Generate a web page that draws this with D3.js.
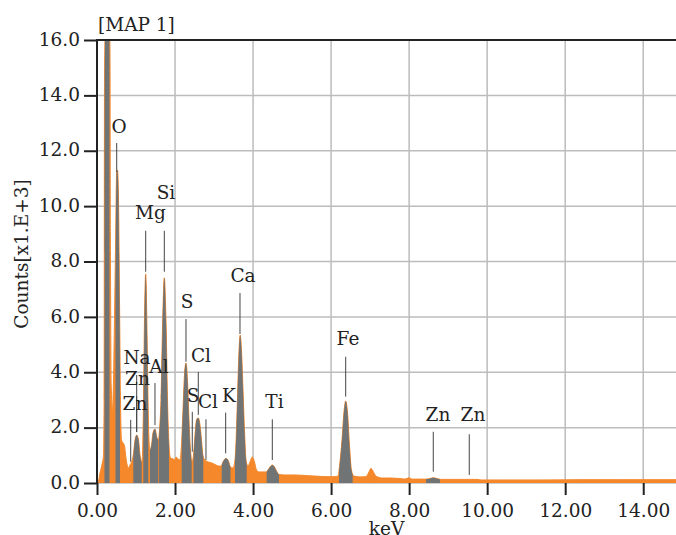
<!DOCTYPE html>
<html>
<head>
<meta charset="utf-8">
<script src="https://cdn.jsdelivr.net/npm/d3@7"></script>
<style>
  body { margin: 0; background: #fff; }
  text { font-family: "DejaVu Serif", serif; fill: #222; }
</style>
</head>
<body>
<svg id="canvas" width="676" height="535"></svg>
<script>
// spectrum (keV, counts x1000)
let energy = [0.000, 0.038, 0.077, 0.136, 0.167, 0.182, 0.192, 0.218, 0.269, 0.320, 0.333, 0.346, 0.364, 0.397, 0.423, 0.448,
  0.474, 0.505, 0.525, 0.551, 0.577, 0.602, 0.628, 0.674, 0.705, 0.743, 0.802, 0.846, 0.889, 0.930, 0.974,
  1.017, 1.064, 1.102, 1.146, 1.166, 1.192, 1.217, 1.248, 1.281, 1.307, 1.333, 1.358, 1.397, 1.435, 1.486,
  1.538, 1.576, 1.602, 1.640, 1.679, 1.725, 1.768, 1.807, 1.845, 1.884, 1.948, 1.999, 2.025, 2.076, 2.127,
  2.165, 2.204, 2.242, 2.281, 2.319, 2.358, 2.396, 2.435, 2.473, 2.512, 2.550, 2.596, 2.640, 2.678, 2.717,
  2.768, 2.845, 2.947, 3.050, 3.127, 3.178, 3.229, 3.306, 3.370, 3.421, 3.485, 3.537, 3.575, 3.614, 3.647,
  3.670, 3.703, 3.742, 3.780, 3.819, 3.870, 3.921, 3.980, 4.036, 4.088, 4.152, 4.254, 4.331, 4.382, 4.434,
  4.493, 4.549, 4.613, 4.664, 4.818, 5.074, 5.330, 5.587, 5.843, 6.099, 6.176, 6.228, 6.279, 6.330, 6.374,
  6.420, 6.471, 6.522, 6.586, 6.740, 6.894, 6.971, 7.022, 7.073, 7.150, 7.304, 7.509, 7.765, 7.893, 7.996,
  8.073, 8.278, 8.432, 8.534, 8.618, 8.713, 8.816, 9.046, 9.302, 9.558, 9.764, 9.841, 10.328, 11.353, 12.378,
  13.403, 14.840]
let counts = [0.00, 0.07, 0.36, 0.72, 1.01, 3.0, 14.5, 16.7, 17.3, 16.7, 15.5, 8.0, 3.50, 2.60, 3.72, 5.89,
  8.41, 11.23, 11.30, 10.22, 6.61, 3.00, 1.55, 1.44, 1.34, 0.90, 0.54, 0.65, 0.77, 1.01, 1.55,
  1.73, 1.55, 1.01, 0.76, 1.01, 3.00, 5.89, 7.55, 5.53, 3.00, 1.55, 1.19, 1.37, 1.81, 1.95,
  1.63, 1.55, 1.91, 3.00, 5.53, 7.41, 5.89, 3.00, 1.37, 0.90, 0.87, 0.83, 0.94, 0.87, 0.83,
  1.37, 2.64, 3.90, 4.33, 3.72, 2.28, 1.19, 0.76, 1.01, 1.73, 2.28, 2.35, 2.09, 1.55, 0.98,
  0.83, 0.76, 0.72, 0.65, 0.61, 0.61, 0.76, 0.89, 0.79, 0.58, 0.54, 0.83, 1.91, 3.72, 4.98,
  5.34, 4.80, 3.36, 1.91, 0.83, 0.61, 0.76, 0.94, 0.76, 0.47, 0.40, 0.40, 0.40, 0.47, 0.58,
  0.65, 0.58, 0.40, 0.31, 0.29, 0.29, 0.27, 0.25, 0.23, 0.23, 0.25, 0.76, 1.55, 2.56, 2.96,
  2.56, 1.37, 0.47, 0.25, 0.22, 0.23, 0.40, 0.53, 0.43, 0.25, 0.18, 0.18, 0.16, 0.14, 0.19,
  0.14, 0.14, 0.14, 0.16, 0.19, 0.16, 0.13, 0.13, 0.13, 0.13, 0.13, 0.11, 0.11, 0.11, 0.12,
  0.12, 0.12]

// identified peak windows (gray), keV
let peakStart = [0.192, 0.474, 0.930, 1.187, 1.358, 1.589, 2.171, 2.473, 3.196, 3.537, 4.349, 6.202, 8.432]
let peakEnd = [0.320, 0.590, 1.146, 1.315, 1.571, 1.845, 2.427, 2.724, 3.421, 3.837, 4.664, 6.553, 8.790]

// element labels
let labelText = ["O", "Mg", "Si", "S", "Ca", "Cl", "Na", "Zn", "Zn", "Al", "S", "Cl", "K", "Ti", "Fe", "Zn", "Zn"]
let labelLineKeV = [0.505, 1.248, 1.725, 2.281, 3.665, 2.596, 1.017, 1.017, 0.864, 1.486, 2.442, 2.793, 3.298, 4.493, 6.374, 8.619, 9.541]
let labelTextKeV = [0.564, 1.371, 1.768, 2.307, 3.742, 2.665, 1.025, 1.038, 0.974, 1.589, 2.460, 2.845, 3.383, 4.549, 6.433, 8.739, 9.636]
let labelBase = [12.64, 9.53, 10.26, 6.31, 7.25, 4.38, 4.29, 3.54, 2.64, 3.98, 2.94, 2.70, 2.94, 2.70, 4.98, 2.25, 2.25]
let lineTop = [12.28, 9.11, 9.11, 5.92, 6.86, 4.01, 3.90, 3.14, 2.28, 3.61, 2.57, 2.30, 2.54, 2.30, 4.56, 1.85, 1.76]
let lineBottom = [11.23, 7.63, 7.63, 4.38, 5.38, 2.46, 1.84, 1.84, 0.77, 2.09, 1.13, 0.83, 1.07, 0.83, 3.12, 0.41, 0.29]

let xTicks = [0, 2, 4, 6, 8, 10, 12, 14]
let yTicks = [0, 2, 4, 6, 8, 10, 12, 14, 16]

let width = 676
let height = 535
let margin = { top: 40, right: 0, bottom: 52, left: 97 }

let canvas = d3.select("#canvas")

let x = d3.scaleLinear().domain([0, 14.84]).range([margin.left, width - margin.right])
let y = d3.scaleLinear().domain([0, 16]).range([height - margin.bottom, margin.top])

let spectrum = energy.map((e, i) => ({ e: e, c: counts[i] }))

// grid
canvas.append("g")
  .selectAll("line")
  .data(xTicks.slice(1))
  .enter()
  .append("line")
  .attr("x1", d => x(d)).attr("x2", d => x(d))
  .attr("y1", y(16)).attr("y2", y(0))
  .attr("stroke", "#bcbcbc").attr("stroke-width", 1.5)

canvas.append("g")
  .selectAll("line")
  .data(yTicks)
  .enter()
  .append("line")
  .attr("x1", x(0)).attr("x2", width)
  .attr("y1", d => y(d)).attr("y2", d => y(d))
  .attr("stroke", "#bcbcbc").attr("stroke-width", 1.5)

// clip to plot
let defs = canvas.append("defs")
defs.append("clipPath").attr("id", "plot")
  .append("rect")
  .attr("x", x(0)).attr("y", y(16))
  .attr("width", width - x(0)).attr("height", y(0) - y(16))

let peakClip = defs.append("clipPath").attr("id", "peaks")
peakStart.forEach((s, i) => {
  peakClip.append("rect")
    .attr("x", x(s)).attr("y", y(16))
    .attr("width", x(peakEnd[i]) - x(s)).attr("height", y(0) - y(16))
})

let area = d3.area()
  .x(d => x(d.e))
  .y0(y(0))
  .y1(d => y(d.c))
  .curve(d3.curveMonotoneX)

let plot = canvas.append("g").attr("clip-path", "url(#plot)")

plot.append("path")
  .datum(spectrum)
  .attr("d", area)
  .attr("fill", "#f4882b")
  .attr("stroke", "#f4882b")
  .attr("stroke-width", 1)

plot.append("g").attr("clip-path", "url(#peaks)")
  .append("path")
  .datum(spectrum)
  .attr("d", area)
  .attr("fill", "#717475")

// label leader lines
canvas.append("g")
  .selectAll("line")
  .data(labelText)
  .enter()
  .append("line")
  .attr("x1", (d, i) => x(labelLineKeV[i]))
  .attr("x2", (d, i) => x(labelLineKeV[i]))
  .attr("y1", (d, i) => y(lineTop[i]))
  .attr("y2", (d, i) => y(lineBottom[i]))
  .attr("stroke", "#444")
  .attr("stroke-width", 1)

canvas.append("g")
  .selectAll("text")
  .data(labelText)
  .enter()
  .append("text")
  .attr("x", (d, i) => x(labelTextKeV[i]))
  .attr("y", (d, i) => y(labelBase[i]))
  .attr("text-anchor", "middle")
  .style("font-size", "18.5px")
  .text(d => d)

// axes
let yAxis = d3.axisLeft(y).tickValues(yTicks).tickSize(13).tickPadding(4).tickFormat(d3.format(".1f"))
let yg = canvas.append("g").attr("transform", `translate(${x(0)},0)`).call(yAxis)
yg.select(".domain").remove()
yg.selectAll("line").attr("stroke", "#222").attr("stroke-width", 2)
yg.selectAll("text").style("font-size", "18.5px").attr("dy", "0.28em").attr("fill", "#222")

let xAxis = d3.axisBottom(x).tickValues(xTicks).tickSize(12).tickPadding(5).tickFormat(d3.format(".2f"))
let xg = canvas.append("g").attr("transform", `translate(0,${y(0)})`).call(xAxis)
xg.select(".domain").remove()
xg.selectAll("line").attr("stroke", "#222").attr("stroke-width", 2)
xg.selectAll("text").style("font-size", "18.5px").attr("dy", "0.9em").attr("fill", "#222")

// frame: left and top
canvas.append("line")
  .attr("x1", x(0)).attr("x2", x(0))
  .attr("y1", y(16) - 1).attr("y2", y(0))
  .attr("stroke", "#222").attr("stroke-width", 2)
canvas.append("line")
  .attr("x1", x(0)).attr("x2", width)
  .attr("y1", y(16)).attr("y2", y(16))
  .attr("stroke", "#222").attr("stroke-width", 2)

canvas.append("text")
  .attr("x", x(0) + 1)
  .attr("y", 31)
  .style("font-size", "18.5px")
  .text("[MAP 1]")

canvas.append("text")
  .attr("x", (x(0) + width) / 2)
  .attr("y", 535)
  .attr("text-anchor", "middle")
  .style("font-size", "18.5px")
  .text("keV")

canvas.append("text")
  .attr("transform", "translate(28,254) rotate(-90)")
  .attr("text-anchor", "middle")
  .style("font-size", "18.5px")
  .text("Counts[x1.E+3]")
</script>
</body>
</html>
